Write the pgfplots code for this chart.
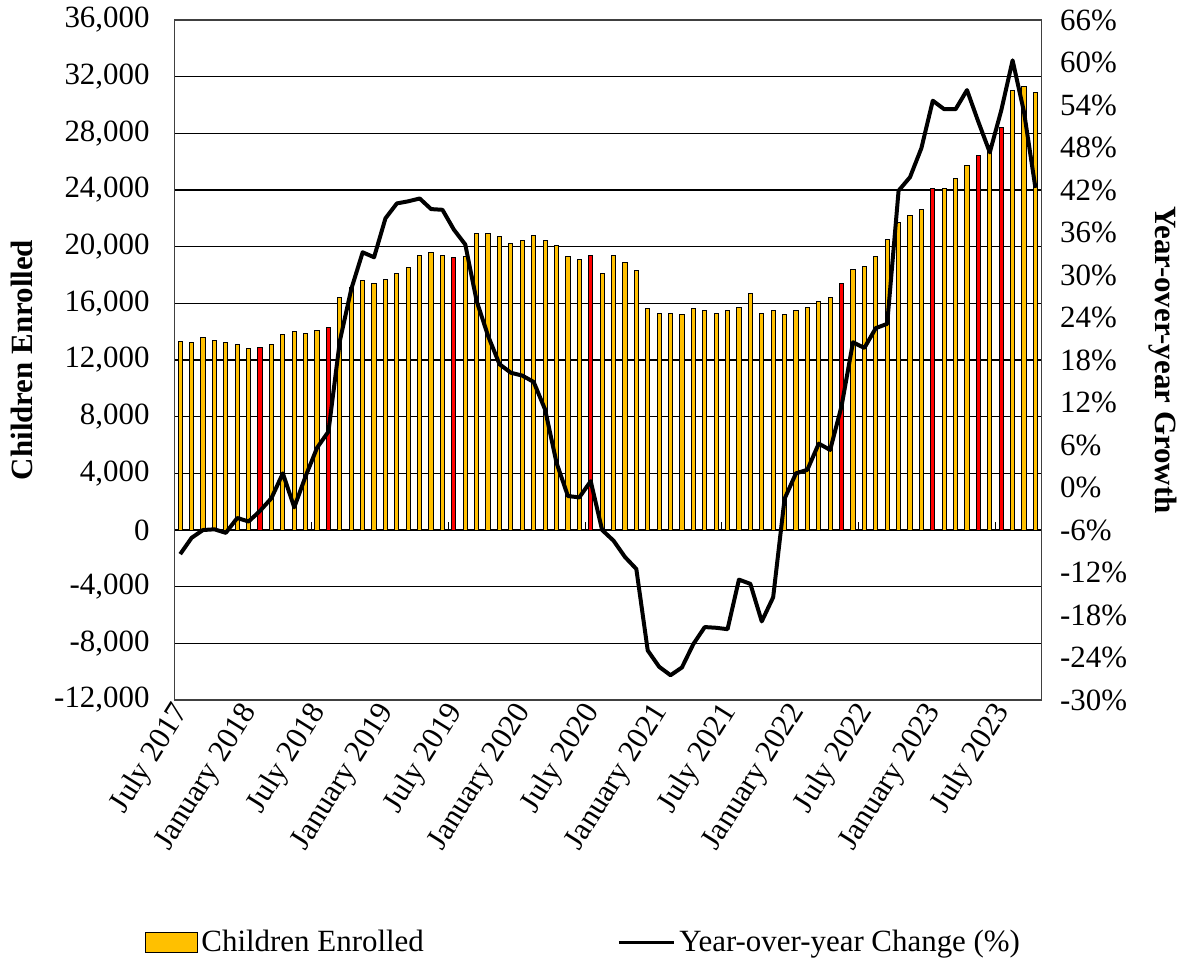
\documentclass[border=0pt]{standalone}
\usepackage{pgfplots}
\pgfplotsset{compat=1.18}
\usepackage{fontspec}
\setmainfont{Liberation Serif}
\definecolor{gold}{HTML}{FFC000}
\definecolor{redbar}{HTML}{FF0000}
\begin{document}
\begin{tikzpicture}[font=\fontsize{15.5}{18}\selectfont]
\begin{axis}[
  name=main,
  scale only axis, width=434.5pt, height=341pt,
  xmin=-0.5, xmax=75.5, ymin=-12000, ymax=36000,
  scaled y ticks=false,
  axis line style={black!75, line width=0.6pt},
  ytick={-12000,-8000,...,36000},
  yticklabels={{-12,000},{-8,000},{-4,000},{0},{4,000},{8,000},{12,000},{16,000},{20,000},{24,000},{28,000},{32,000},{36,000}},
  yticklabel style={anchor=east, xshift=-9pt},
  xtick={0,6,...,72},
  xticklabels={July 2017,January 2018,July 2018,January 2019,July 2019,January 2020,July 2020,January 2021,July 2021,January 2022,July 2022,January 2023,July 2023},
  xticklabel style={rotate=58, anchor=east, yshift=-3pt, xshift=1pt},
  major tick length=0pt,
  ymajorgrids, major grid style={black, line width=0.75pt},
  ylabel={\bfseries Children Enrolled},
  ylabel style={at={(axis description cs:-0.176,0.5)}, anchor=center},
  legend columns=2,
  legend style={draw=none, fill=none, at={(0.473,-0.356)}, anchor=center,
    /tikz/every even column/.append style={column sep=95pt},
    font=\fontsize{15.5}{18}\selectfont},
]
\addplot[ybar, bar width=2.1pt, bar shift=0pt, fill=gold, draw=black, line width=0.5pt,
  legend image code/.code={\draw[fill=gold, draw=black, line width=0.4pt] (0pt,-5pt) rectangle (26pt,5pt);}]
coordinates {
(0,13300)(1,13200)(2,13600)(3,13400)(4,13200)(5,13100)(6,12800)(8,13100)(9,13800)
(10,14000)(11,13900)(12,14100)(14,16400)(15,17100)(16,17600)(17,17400)(18,17700)(19,18100)
(20,18500)(21,19400)(22,19600)(23,19400)(25,19300)(26,20900)(27,20900)(28,20700)(29,20200)
(30,20400)(31,20800)(32,20400)(33,20100)(34,19300)(35,19100)(37,18100)(38,19400)(39,18900)
(40,18300)(41,15600)(42,15300)(43,15300)(44,15200)(45,15600)(46,15500)(47,15300)(48,15500)(49,15700)
(50,16700)(51,15300)(52,15500)(53,15200)(54,15500)(55,15700)(56,16100)(57,16400)(59,18400)
(60,18600)(61,19300)(62,20500)(63,21700)(64,22200)(65,22600)(67,24100)(68,24800)(69,25700)
(71,26700)(73,31000)(74,31300)(75,30900)
};
\addlegendentry{Children Enrolled}
\addplot[ybar, bar width=2.1pt, bar shift=0pt, fill=redbar, draw=black, line width=0.5pt, forget plot]
coordinates {
(7,12900)(13,14300)(24,19200)(36,19400)(58,17400)(66,24100)(70,26400)(72,28400)
};
\addplot[ycomb, black, line width=0.5pt, no marks, forget plot]
coordinates {(11.5,600)(23.5,600)(35.5,600)(47.5,600)(59.5,600)(71.5,600)};
\addlegendimage{black, line width=1.6pt, legend image code/.code={\draw[black, line width=1.6pt] (0pt,0pt) -- (27.5pt,0pt);}}
\addlegendentry{Year-over-year Change (\%)}
\end{axis}
\begin{axis}[
  scale only axis, width=434.5pt, height=341pt,
  xmin=-0.5, xmax=75.5, ymin=-30, ymax=66,
  axis y line*=right, axis x line=none,
  axis line style={black!75, line width=0.6pt},
  ytick={-30,-24,...,66},
  yticklabels={-30\%,-24\%,-18\%,-12\%,-6\%,0\%,6\%,12\%,18\%,24\%,30\%,36\%,42\%,48\%,54\%,60\%,66\%},
  yticklabel style={anchor=west, xshift=6pt},
  major tick length=0pt,
  ylabel={\bfseries Year-over-year Growth},
  ylabel style={at={(axis description cs:1.141,0.5)}, anchor=center, rotate=180},
]
\addplot[black, line width=2pt, mark=none, line join=round] coordinates {
(0,-9.4)(1,-7.1)(2,-6.0)(3,-5.9)(4,-6.4)(5,-4.3)(6,-4.8)(7,-3.3)(8,-1.5)(9,2.0)
(10,-2.8)(11,1.6)(12,5.6)(13,7.9)(14,20.7)(15,28.0)(16,33.2)(17,32.5)(18,38.0)(19,40.1)
(20,40.4)(21,40.8)(22,39.3)(23,39.2)(24,36.4)(25,34.3)(26,26.3)(27,21.4)(28,17.4)(29,16.2)
(30,15.8)(31,14.9)(32,11.0)(33,3.5)(34,-1.2)(35,-1.4)(36,0.9)(37,-6.0)(38,-7.5)(39,-9.8)
(40,-11.5)(41,-23.0)(42,-25.3)(43,-26.5)(44,-25.4)(45,-22.1)(46,-19.7)(47,-19.8)(48,-20.0)(49,-13.0)
(50,-13.6)(51,-18.9)(52,-15.5)(53,-1.6)(54,2.0)(55,2.5)(56,6.2)(57,5.3)(58,11.5)(59,20.5)
(60,19.7)(61,22.5)(62,23.1)(63,41.9)(64,43.8)(65,47.9)(66,54.6)(67,53.4)(68,53.4)(69,56.1)
(70,51.6)(71,47.3)(72,53.2)(73,60.3)(74,53.0)(75,42.3)
};
\end{axis}
\path ([shift={(-87.5pt,-131pt)}]main.south west) rectangle ([shift={(70pt,10pt)}]main.north east);
\end{tikzpicture}
\end{document}
